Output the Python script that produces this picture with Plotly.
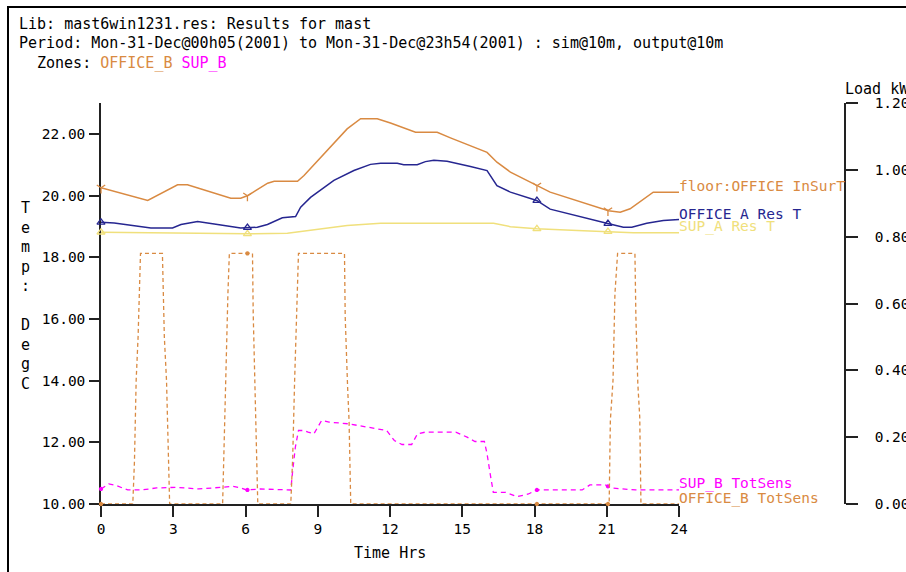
import numpy as np
import plotly.graph_objects as go

# ---- series data (hours, values) ----
floor_h = [0, 1.94, 3.18, 3.59, 5.39, 5.80, 6.10, 6.92, 7.19, 8.16, 8.43, 9.40, 10.22, 10.78,
           11.47, 12.02, 13.06, 13.96, 14.51, 16.03, 16.44, 17.0, 18.09, 18.65, 21.07, 21.56,
           21.97, 22.93, 23.76, 24.0]
floor_T = [20.25, 19.84, 20.35, 20.35, 19.91, 19.91, 20.0, 20.40, 20.46, 20.46, 20.65, 21.46,
           22.16, 22.49, 22.49, 22.35, 22.05, 22.05, 21.87, 21.40, 21.08, 20.76, 20.32, 20.11,
           19.51, 19.46, 19.57, 20.11, 20.11, 20.11]

office_h = [0, 0.55, 2.07, 2.97, 3.32, 4.01, 4.84, 5.80, 6.49, 6.91, 7.53, 8.08, 8.29, 8.70,
            9.67, 10.50, 11.19, 11.61, 12.30, 12.57, 13.13, 13.47, 13.82, 14.37, 15.34, 16.03,
            16.44, 17.0, 18.09, 18.65, 21.0, 21.69, 22.04, 22.66, 23.35, 24.0]
office_T = [19.13, 19.11, 18.95, 18.95, 19.06, 19.16, 19.06, 18.95, 18.97, 19.06, 19.28, 19.32,
            19.62, 19.94, 20.49, 20.81, 21.01, 21.05, 21.05, 21.0, 21.0, 21.10, 21.14, 21.11,
            20.94, 20.81, 20.32, 20.11, 19.84, 19.56, 19.10, 18.97, 18.97, 19.10, 19.19, 19.22]

sup_h = [0, 2.69, 6.08, 7.74, 8.57, 10.22, 11.61, 16.3, 17.0, 18.09, 20.03, 21.07, 22.1, 24.0]
sup_T = [18.81, 18.78, 18.76, 18.78, 18.86, 19.03, 19.10, 19.10, 18.99, 18.92, 18.86, 18.83,
         18.79, 18.79]

officeb_h = [0, 1.32, 1.39, 1.46, 1.54, 1.64, 2.55, 2.63, 2.72, 2.82, 2.85,
             5.05, 5.11, 5.22, 5.27, 5.33, 6.29, 6.32, 6.39, 6.45, 6.51,
             7.88, 7.96, 8.04, 8.10, 8.20, 10.11, 10.14, 10.24, 10.30, 10.37,
             21.10, 21.15, 21.26, 21.34, 21.45, 22.17, 22.21, 22.29, 22.37, 22.42, 24.0]
officeb_kw = [0, 0, 0.13, 0.37, 0.50, 0.75, 0.75, 0.50, 0.37, 0.13, 0,
              0, 0.19, 0.50, 0.63, 0.75, 0.75, 0.57, 0.38, 0.135, 0,
              0, 0.14, 0.37, 0.50, 0.75, 0.75, 0.56, 0.35, 0.25, 0,
              0, 0.25, 0.37, 0.63, 0.75, 0.75, 0.56, 0.36, 0.26, 0, 0]

supb_h = [0, 0.32, 0.64, 1.11, 1.67, 2.31, 3.1, 4.06, 5.02, 5.49, 5.81, 6.05, 6.61, 7.88, 7.96,
          8.07, 8.2, 8.44, 8.6, 8.84, 9.16, 9.47, 10.27, 11.07, 11.86, 12.18, 12.5, 12.9, 13.14,
          13.46, 14.73, 15.2, 15.53, 15.92, 16.03, 16.16, 16.29, 16.8, 17.28, 17.75, 18.07,
          19.03, 19.98, 20.3, 20.94, 21.18, 21.58, 22.2, 24.0]
supb_kw = [0.045, 0.06, 0.055, 0.042, 0.042, 0.048, 0.05, 0.045, 0.05, 0.053, 0.048, 0.042,
           0.045, 0.042, 0.10, 0.17, 0.22, 0.22, 0.215, 0.21, 0.25, 0.245, 0.24, 0.23, 0.22,
           0.19, 0.178, 0.178, 0.21, 0.215, 0.215, 0.20, 0.187, 0.187, 0.15, 0.09, 0.035, 0.035,
           0.022, 0.03, 0.042, 0.042, 0.042, 0.057, 0.057, 0.048, 0.045, 0.042, 0.042]

marker_hours = [0.0, 6.08, 18.1, 21.05]

temp_ticks = [10, 12, 14, 16, 18, 20, 22]
load_ticks = [0, 0.2, 0.4, 0.6, 0.8, 1.0, 1.2]
time_ticks = [0, 3, 6, 9, 12, 15, 18, 21, 24]

ORANGE = "#d98a42"
NAVY = "#262690"
YELLOW = "#f0e07c"
MAGENTA = "#ff00ff"
FONT = "DejaVu Sans Mono"

# ---- page geometry ----
W, H = 906, 572
ML, MR, MT, MB = 101, 61, 103, 68
PW, PH = W - ML - MR, H - MT - MB


def px(x):
    return (x - ML) / PW


def py(y):
    return (H - MB - y) / PH


fig = go.Figure()


def add_series(hours, vals, color, dash, yaxis, symbol, width=1.5, msize=7):
    fig.add_trace(go.Scatter(x=hours, y=vals, mode="lines", yaxis=yaxis,
                             line=dict(color=color, width=width, dash=dash),
                             hoverinfo="skip", showlegend=False))
    mv = np.interp(marker_hours, hours, vals)
    fig.add_trace(go.Scatter(x=marker_hours, y=mv, mode="markers", yaxis=yaxis,
                             marker=dict(symbol=symbol, size=msize, color=color,
                                         line=dict(color=color, width=1.3)),
                             cliponaxis=False, hoverinfo="skip", showlegend=False))


add_series(sup_h, sup_T, YELLOW, "solid", "y", "triangle-up-open")
add_series(office_h, office_T, NAVY, "solid", "y", "triangle-up-open")
add_series(floor_h, floor_T, ORANGE, "solid", "y", "y-down-open")
add_series(supb_h, supb_kw, MAGENTA, "5px,4px", "y2", "circle", width=1.3, msize=3)
add_series(officeb_h, officeb_kw, ORANGE, "4px,3px", "y2", "circle", width=1.3, msize=3)

# ---- end-of-line labels ----
end_labels = [
    ("floor:OFFICE InSurT", floor_T[-1], "y", ORANGE),
    ("OFFICE A Res T", office_T[-1], "y", NAVY),
    ("SUP_A Res T", sup_T[-1], "y", YELLOW),
    ("SUP_B TotSens", supb_kw[-1], "y2", MAGENTA),
    ("OFFICE_B TotSens", officeb_kw[-1], "y2", ORANGE),
]
annotations = []
for text, yv, yref, col in end_labels:
    annotations.append(dict(text=text, x=24, y=yv, xref="x", yref=yref, xanchor="left",
                            yanchor="middle", xshift=-2, yshift=6, showarrow=False,
                            font=dict(family=FONT, size=14.5, color=col)))

# ---- header text ----
header = [
    ("Lib: mast6win1231.res: Results for mast", 17, 24),
    ("Period: Mon-31-Dec@00h05(2001) to Mon-31-Dec@23h54(2001) : sim@10m, output@10m", 17, 43),
    ("Zones: <span style='color:%s'>OFFICE_B</span> <span style='color:%s'>SUP_B</span>"
     % (ORANGE, MAGENTA), 35, 63),
]
for text, x, y in header:
    annotations.append(dict(text=text, x=px(x), y=py(y), xref="paper", yref="paper",
                            xanchor="left", yanchor="middle", showarrow=False,
                            font=dict(family=FONT, size=15, color="black")))

annotations.append(dict(text="<br>".join(list("Temp:")) + "<br><br>" + "<br>".join(list("DegC")),
                        x=px(25), y=py(296), xref="paper", yref="paper", xanchor="center",
                        yanchor="middle", showarrow=False, align="center",
                        font=dict(family=FONT, size=15, color="black")))
annotations.append(dict(text="Time Hrs", x=px(390), y=py(553), xref="paper", yref="paper",
                        xanchor="center", yanchor="middle", showarrow=False,
                        font=dict(family=FONT, size=15, color="black")))
annotations.append(dict(text="Load kW", x=px(843), y=py(89), xref="paper", yref="paper",
                        xanchor="left", yanchor="middle", showarrow=False,
                        font=dict(family=FONT, size=15, color="black")))

# ---- frame lines ----
shapes = [
    dict(type="line", xref="paper", yref="paper", x0=px(7), x1=px(906), y0=py(7), y1=py(7),
         line=dict(color="black", width=2)),
    dict(type="line", xref="paper", yref="paper", x0=px(8), x1=px(8), y0=py(7), y1=py(572),
         line=dict(color="black", width=2)),
]

axis_common = dict(showgrid=False, zeroline=False, showline=True, linecolor="#222",
                   linewidth=1.5, ticks="outside", tickcolor="#222", tickwidth=1.5,
                   tickfont=dict(family=FONT, size=14.5, color="black"),
                   layer="below traces", automargin=False)

fig.update_layout(
    width=W, height=H,
    margin=dict(l=ML, r=MR, t=MT, b=MB, pad=0, autoexpand=False),
    paper_bgcolor="white", plot_bgcolor="white",
    showlegend=False,
    xaxis=dict(domain=[0, px(679)], range=[0, 24], tickvals=time_ticks, ticklen=11,
               anchor="y", **axis_common),
    yaxis=dict(range=[10, 23], tickvals=temp_ticks, tickformat=".2f", ticklen=10,
               ticklabelstandoff=1, anchor="x", **axis_common),
    yaxis2=dict(range=[0, 1.2], tickvals=load_ticks, tickformat=".2f", ticklen=12,
                ticklabelstandoff=14, overlaying="y", side="right", anchor="free",
                position=1.0, **axis_common),
    annotations=annotations,
    shapes=shapes,
)

fig.write_html("out.html")
